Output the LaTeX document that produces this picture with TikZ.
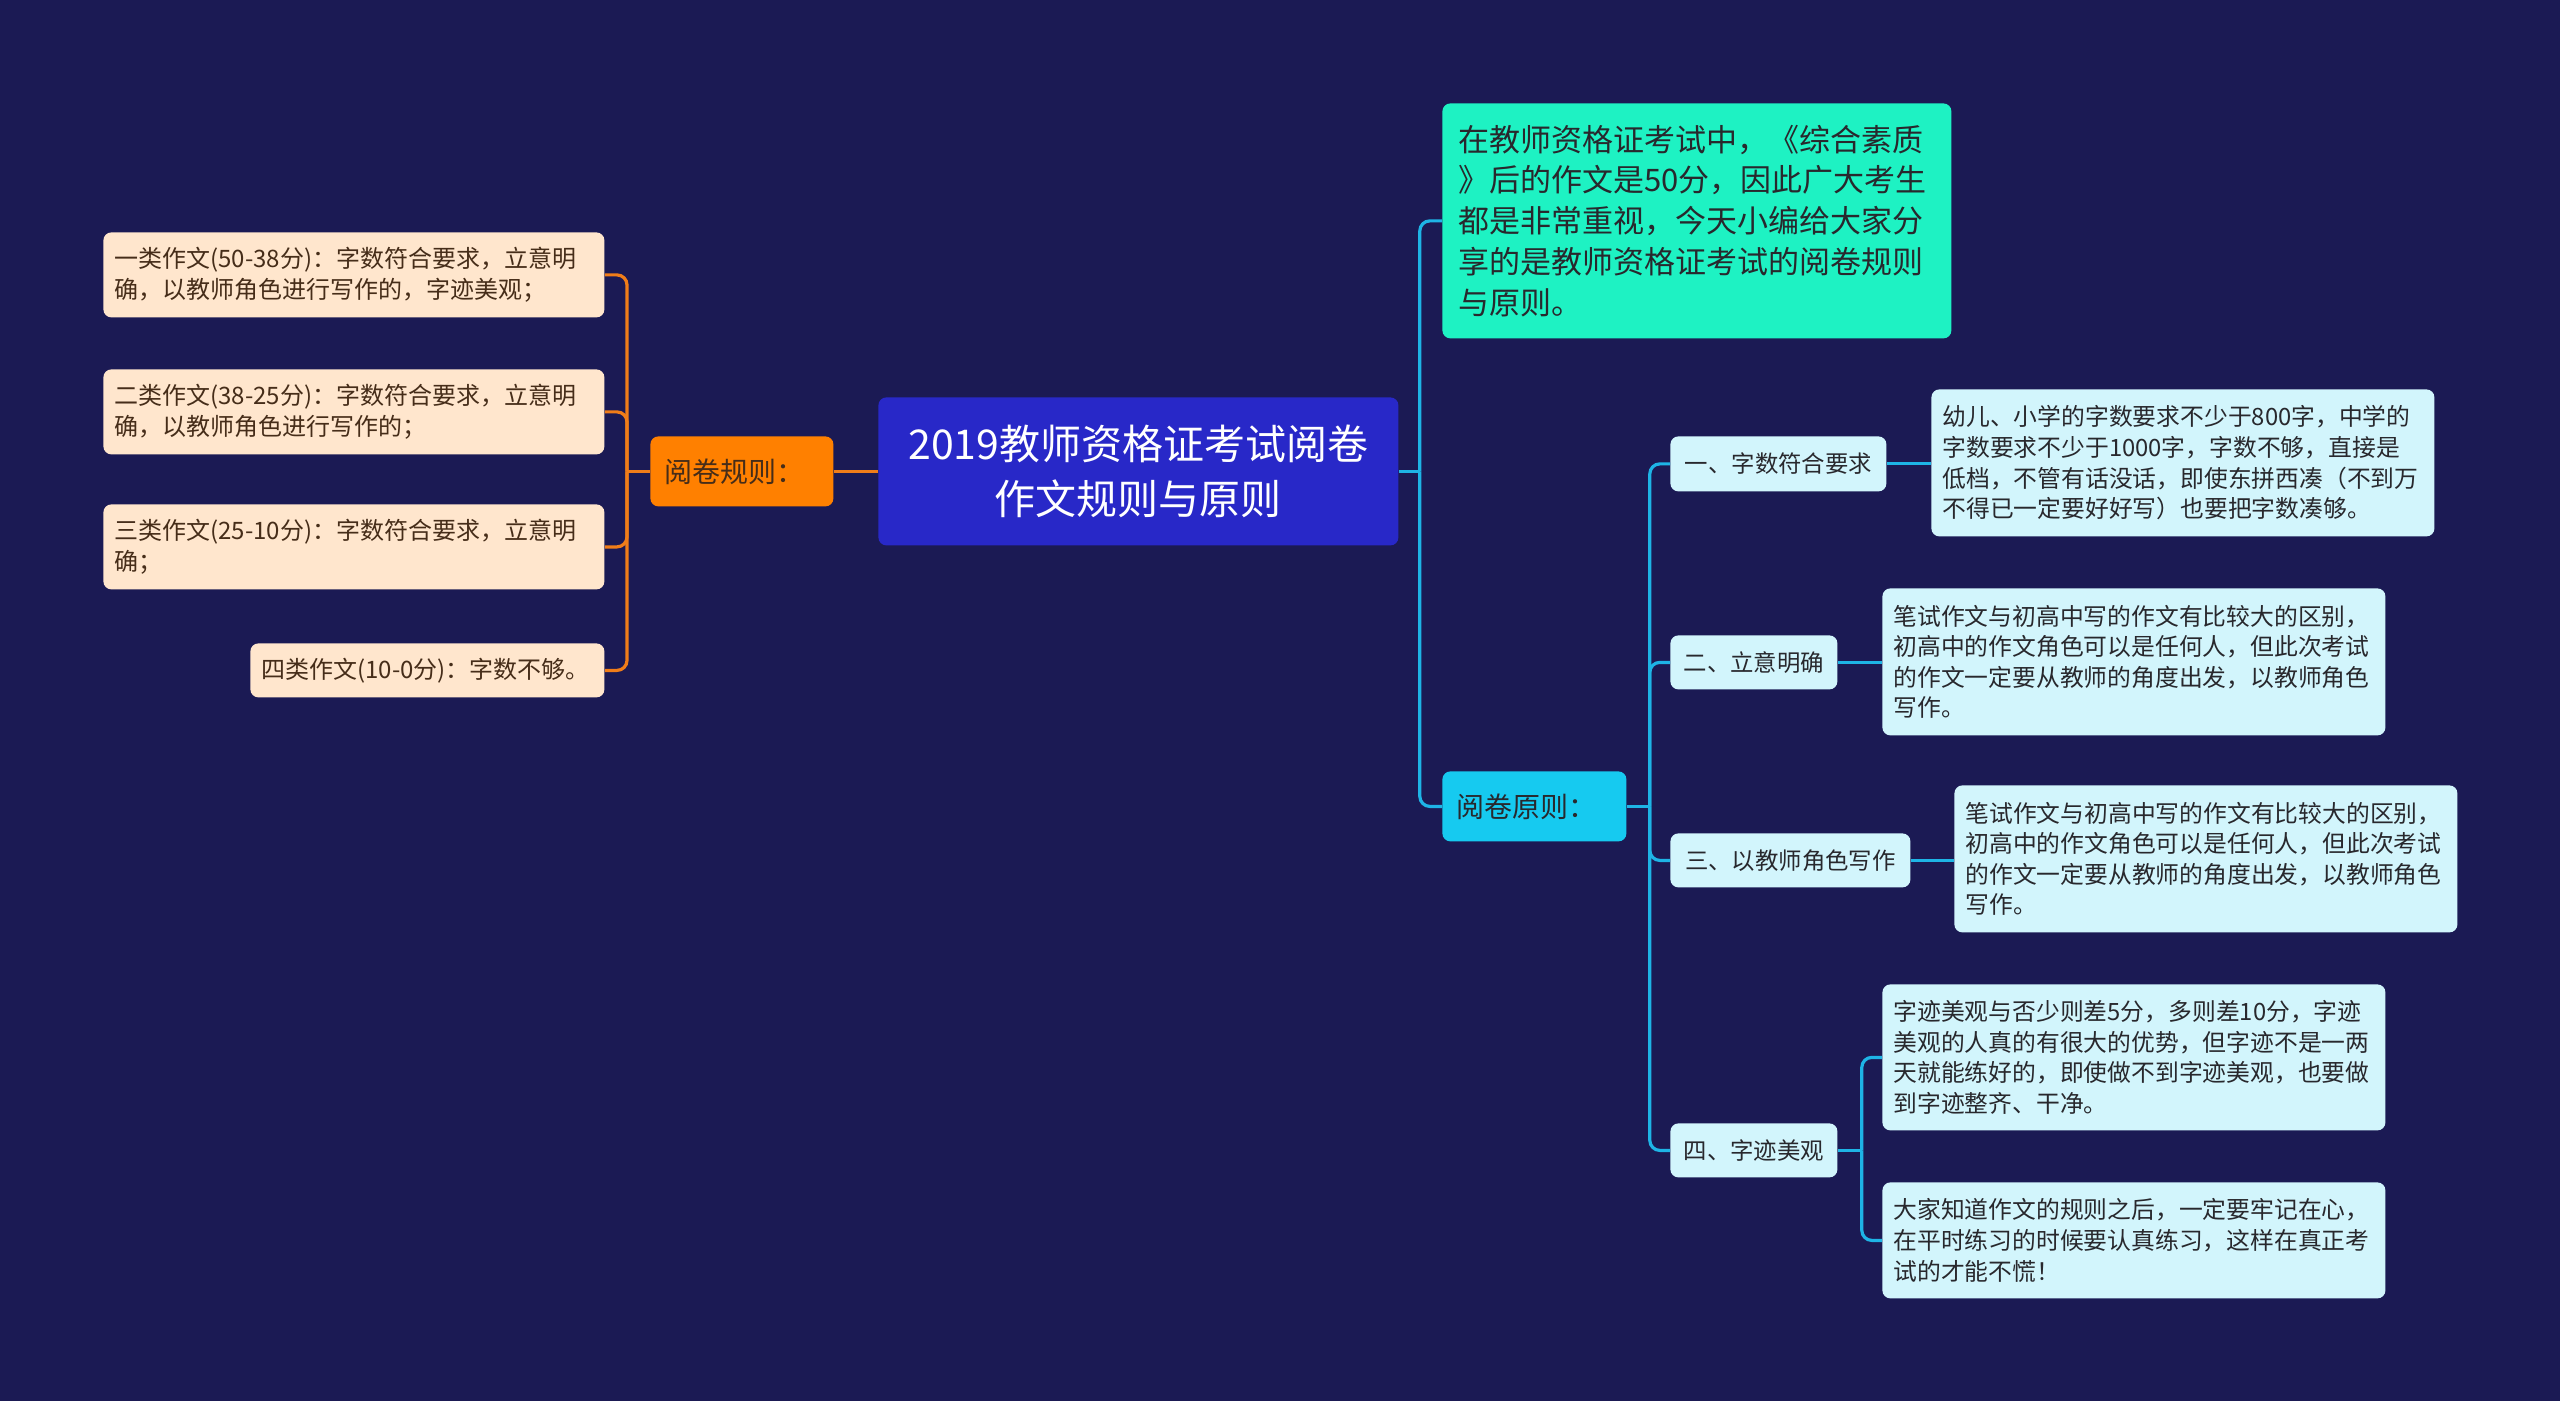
\documentclass[tikz,border=0pt]{standalone}
\usepackage{fontspec}
\newfontfamily\cjk{Noto Sans CJK SC}
\usetikzlibrary{calc}
\definecolor{bgc}{RGB}{27,26,84}
\definecolor{rootc}{RGB}{40,40,200}
\definecolor{orangec}{RGB}{255,128,0}
\definecolor{peachc}{RGB}{255,230,205}
\definecolor{browntext}{RGB}{70,45,25}
\definecolor{tealc}{RGB}{30,242,195}
\definecolor{cyanc}{RGB}{22,202,240}
\definecolor{lightc}{RGB}{210,245,252}
\definecolor{olinec}{RGB}{240,125,25}
\definecolor{clinec}{RGB}{30,180,230}
\definecolor{darktext}{RGB}{40,40,45}
\tikzset{
  basebox/.style={rounded corners=4pt, anchor=north west, inner ysep=0pt, font=\cjk},
  rootbox/.style={basebox, fill=rootc, text=white, align=center, font=\cjk\fontsize{20.5}{27.5}\selectfont},
  rulebox/.style={basebox, fill=orangec, text=browntext, align=left, inner xsep=7pt, font=\cjk\fontsize{14}{18}\selectfont},
  peachbox/.style={basebox, fill=peachc, text=browntext, align=left, inner xsep=5.5pt, font=\cjk\fontsize{12}{15.3}\selectfont},
  introbox/.style={basebox, fill=tealc, text=darktext, align=left, inner xsep=8pt, font=\cjk\fontsize{15.5}{20.4}\selectfont},
  prinbox/.style={basebox, fill=cyanc, text=darktext, align=left, inner xsep=7pt, font=\cjk\fontsize{14}{18}\selectfont},
  subbox/.style={basebox, fill=lightc, text=darktext, align=center, font=\cjk\fontsize{11.7}{15.3}\selectfont},
  leafbox/.style={basebox, fill=lightc, text=darktext, align=left, inner xsep=5.5pt, font=\cjk\fontsize{11.9}{15.3}\selectfont},
  oline/.style={draw=olinec, line width=1.6pt, rounded corners=5pt},
  cline/.style={draw=clinec, line width=1.6pt, rounded corners=5pt}
}
\begin{document}
\begin{tikzpicture}[x=0.5pt,y=-0.5pt]
\fill[bgc] (0,0) rectangle (2560,1401);
\useasboundingbox (0,0) rectangle (2560,1401);

% root
\node[rootbox, minimum width=260pt, minimum height=74pt] (root) at (878,397) {2019教师资格证考试阅卷\\作文规则与原则};

% left branch
\node[rulebox, text width=77.5pt, minimum height=35pt] (rule) at (650,436) {阅卷规则：};
\node[peachbox, text width=239.5pt, minimum height=42.5pt] (l1) at (103,232) {一类作文(50-38分)：字数符合要求，立意明\\确，以教师角色进行写作的，字迹美观；};
\node[peachbox, text width=239.5pt, minimum height=42.5pt] (l2) at (103,369) {二类作文(38-25分)：字数符合要求，立意明\\确，以教师角色进行写作的；};
\node[peachbox, text width=239.5pt, minimum height=42.5pt] (l3) at (103,504) {三类作文(25-10分)：字数符合要求，立意明\\确；};
\node[peachbox, text width=166pt, minimum height=27pt] (l4) at (250,643) {四类作文(10-0分)：字数不够。};

% right branch
\node[introbox, text width=238.5pt, minimum height=117.5pt] (intro) at (1442,103) {在教师资格证考试中，《综合素质\\》后的作文是50分，因此广大考生\\都是非常重视，今天小编给大家分\\享的是教师资格证考试的阅卷规则\\与原则。};
\node[prinbox, text width=78pt, minimum height=35pt] (prin) at (1442,771) {阅卷原则：};

\node[subbox, minimum width=108pt, minimum height=27.5pt] (n1) at (1670,436) {一、字数符合要求};
\node[subbox, minimum width=83.5pt, minimum height=27pt] (n2) at (1670,635) {二、立意明确};
\node[subbox, minimum width=120pt, minimum height=27pt] (n3) at (1670,833) {三、以教师角色写作};
\node[subbox, minimum width=83.5pt, minimum height=27pt] (n4) at (1670,1123) {四、字迹美观};

\node[leafbox, text width=240.5pt, minimum height=73.5pt] (L1) at (1931,389) {幼儿、小学的字数要求不少于800字，中学的\\字数要求不少于1000字，字数不够，直接是\\低档，不管有话没话，即使东拼西凑（不到万\\不得已一定要好好写）也要把字数凑够。};
\node[leafbox, text width=240.5pt, minimum height=73.5pt] (L2) at (1882,588) {笔试作文与初高中写的作文有比较大的区别，\\初高中的作文角色可以是任何人，但此次考试\\的作文一定要从教师的角度出发，以教师角色\\写作。};
\node[leafbox, text width=240.5pt, minimum height=73.5pt] (L3) at (1954,785) {笔试作文与初高中写的作文有比较大的区别，\\初高中的作文角色可以是任何人，但此次考试\\的作文一定要从教师的角度出发，以教师角色\\写作。};
\node[leafbox, text width=240.5pt, minimum height=73pt] (L4a) at (1882,984) {字迹美观与否少则差5分，多则差10分，字迹\\美观的人真的有很大的优势，但字迹不是一两\\天就能练好的，即使做不到字迹美观，也要做\\到字迹整齐、干净。};
\node[leafbox, text width=240.5pt, minimum height=58pt] (L4b) at (1882,1182) {大家知道作文的规则之后，一定要牢记在心，\\在平时练习的时候要认真练习，这样在真正考\\试的才能不慌！};

% left connectors
\coordinate (lb) at ($(rule.west)+(-23,0)$);
\draw[oline] (root.west) -- (rule.east);
\draw[oline] (rule.west) -- (lb);
\draw[oline] (lb) |- (l1.east);
\draw[oline] (lb) |- (l2.east);
\draw[oline] (lb) |- (l3.east);
\draw[oline] (lb) |- (l4.east);

% right connectors
\coordinate (rb) at ($(root.east)+(21,0)$);
\draw[cline] (root.east) -- (rb);
\draw[cline] (rb) |- (intro.west);
\draw[cline] (rb) |- (prin.west);

\coordinate (pb) at ($(prin.east)+(23,0)$);
\draw[cline] (prin.east) -- (pb);
\draw[cline] (pb) |- (n1.west);
\draw[cline] (pb) |- (n2.west);
\draw[cline] (pb) |- (n3.west);
\draw[cline] (pb) |- (n4.west);

\draw[cline] (n1.east) -- (n1.east -| L1.west);
\draw[cline] (n2.east) -- (n2.east -| L2.west);
\draw[cline] (n3.east) -- (n3.east -| L3.west);

\coordinate (qb) at ($(n4.east)+(24,0)$);
\draw[cline] (n4.east) -- (qb);
\draw[cline] (qb) |- (L4a.west);
\draw[cline] (qb) |- (L4b.west);
\end{tikzpicture}
\end{document}
